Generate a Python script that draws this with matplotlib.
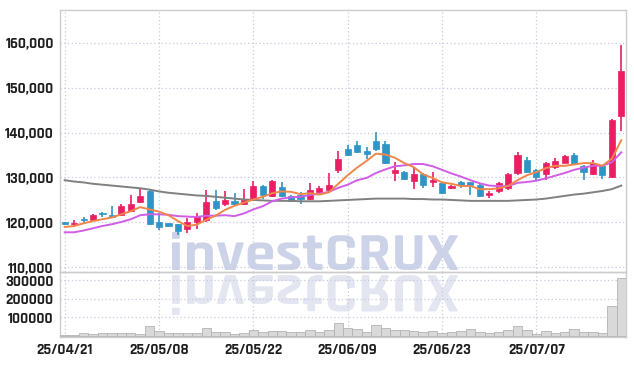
import numpy as np
import matplotlib
matplotlib.use('Agg')
import matplotlib.pyplot as plt
from matplotlib.patches import PathPatch
from matplotlib.textpath import TextPath
from matplotlib.font_manager import FontProperties
from matplotlib.transforms import Affine2D
from matplotlib.ticker import FuncFormatter

# DATA (daily candles, 25/04/21 - 25/07/18)
dates = ['25/04/21', '25/04/22', '25/04/23', '25/04/24', '25/04/25', '25/04/28', '25/04/29', '25/04/30',
         '25/05/02', '25/05/07', '25/05/08', '25/05/09', '25/05/12', '25/05/13', '25/05/14', '25/05/15',
         '25/05/16', '25/05/19', '25/05/20', '25/05/21', '25/05/22', '25/05/23', '25/05/26', '25/05/27',
         '25/05/28', '25/05/29', '25/05/30', '25/06/02', '25/06/04', '25/06/05', '25/06/09', '25/06/10',
         '25/06/11', '25/06/12', '25/06/13', '25/06/16', '25/06/17', '25/06/18', '25/06/19', '25/06/20',
         '25/06/23', '25/06/24', '25/06/25', '25/06/26', '25/06/27', '25/06/30', '25/07/01', '25/07/02',
         '25/07/03', '25/07/04', '25/07/07', '25/07/08', '25/07/09', '25/07/10', '25/07/11', '25/07/14',
         '25/07/15', '25/07/16', '25/07/17', '25/07/18']

opens = [120000, 119700, 120800, 120500, 122100, 121600, 121600, 122600, 124500, 127000,
         120100, 119800, 119600, 118600, 120000, 120500, 124700, 124200, 124800, 124000,
         125000, 128000, 125900, 127900, 125800, 126100, 125300, 126700, 127200, 131600,
         136300, 137300, 135800, 138100, 137400, 131000, 131200, 129300, 130700, 128900,
         128700, 127600, 129000, 129000, 128300, 126200, 127000, 127600, 130900, 133800,
         131600, 130800, 132300, 133300, 135000, 132500, 130700, 132600, 130000, 143700]
highs = [120100, 120500, 121100, 121800, 122400, 123600, 124200, 126200, 127400, 127200,
         122100, 119900, 119700, 121000, 122000, 127300, 127200, 127000, 126600, 127400,
         129200, 128400, 129500, 129000, 126000, 126800, 128800, 128100, 131000, 135900,
         137200, 138100, 136700, 140100, 138100, 133500, 131500, 132100, 131000, 131300,
         128900, 128400, 129300, 129100, 128500, 126900, 129100, 131100, 135600, 134500,
         131800, 133400, 134300, 135000, 135400, 132700, 133800, 132800, 143100, 159400]
lows = [119400, 118900, 119800, 120300, 121200, 121200, 121400, 122400, 124300, 119400,
        118400, 119000, 117100, 117700, 118600, 120000, 122800, 123700, 123800, 123900,
        124700, 125200, 125700, 125700, 124700, 124100, 125100, 126100, 127000, 131100,
        134800, 135400, 134200, 136000, 132900, 129200, 129500, 127400, 127600, 127900,
        126400, 127400, 127600, 126100, 125700, 125500, 126600, 127300, 130600, 131000,
        129400, 129500, 132000, 133200, 132800, 129400, 130500, 129600, 129900, 140300]
closes = [119600, 119900, 120600, 121600, 121900, 121300, 123600, 124200, 125800, 119600,
          119000, 119200, 118100, 120000, 121400, 124500, 123300, 125000, 124200, 125100,
          128100, 126000, 129300, 125900, 124800, 125300, 127300, 127600, 128400, 134200,
          135000, 135700, 135200, 136400, 133300, 131600, 129700, 130700, 128300, 129400,
          126600, 128000, 128300, 128400, 125900, 126600, 128800, 130800, 135100, 131200,
          130100, 133200, 133600, 134800, 133000, 131200, 133300, 130500, 142900, 153600]
volumes = [4000, 5000, 18000, 10000, 18000, 18000, 18000, 18000, 10000, 54000,
           29000, 18000, 18000, 18000, 18000, 43000, 21000, 21000, 8000, 18000,
           32000, 21000, 25000, 27000, 23000, 23000, 32000, 21000, 32000, 70000,
           43000, 36000, 23000, 60000, 45000, 30000, 30000, 27000, 21000, 27000,
           18000, 21000, 29000, 38000, 21000, 18000, 23000, 32000, 54000, 32000,
           10000, 27000, 18000, 23000, 38000, 21000, 21000, 18000, 159000, 311000]

# moving averages as drawn on the chart (5, 10 and long term)
ma5 = [119000, 119200, 119800, 120300, 120700, 121100, 121800, 122500, 123400, 122900,
       122400, 121600, 120300, 119200, 119500, 120600, 121500, 122800, 123700, 124400,
       125100, 125700, 126500, 126900, 126800, 126300, 126500, 126200, 126700, 128600,
       130500, 132200, 133700, 135300, 135100, 134400, 133200, 132300, 130700, 129900,
       128900, 128600, 128100, 128100, 127400, 127400, 127600, 128100, 129400, 130500,
       131200, 132100, 132600, 132600, 132900, 133200, 133200, 132600, 134200, 138300]
ma10 = [117800, 117800, 118200, 118700, 119200, 119600, 120100, 120700, 121600, 121800,
        121800, 121700, 121400, 121300, 121200, 121500, 121500, 121600, 121400, 122000,
        122900, 123600, 124700, 125300, 125600, 125700, 126100, 126400, 126800, 127700,
        128400, 129400, 129900, 131000, 131800, 132500, 132700, 133000, 133000, 132500,
        131700, 130900, 130200, 129400, 128700, 128200, 128100, 128100, 128800, 129000,
        129300, 129800, 130400, 131000, 131700, 132200, 132600, 132600, 133400, 135600]
ma_long = [129400, 129100, 128900, 128600, 128400, 128200, 128000, 127800, 127600, 127300,
           126900, 126600, 126400, 126200, 126000, 125900, 125700, 125500, 125300, 125100,
           125000, 124900, 124800, 124800, 124800, 124700, 124700, 124700, 124800, 124900,
           125000, 125100, 125200, 125300, 125300, 125300, 125300, 125200, 125200, 125100,
           125100, 125000, 124900, 124800, 124800, 124800, 124800, 124800, 124900, 125000,
           125100, 125300, 125600, 125900, 126200, 126400, 126700, 127000, 127400, 128200]

price_ticks = [110000, 120000, 130000, 140000, 150000, 160000]
volume_ticks = [100000, 200000, 300000]

# STYLE
UP = '#e91e63'
DOWN = '#2f94c6'
GRID = '#c9cbe0'
FONT = ['Rajdhani', 'DejaVu Sans']
plt.rcParams['font.family'] = FONT

W, H = 634, 366
fig = plt.figure(figsize=(W / 100, H / 100), dpi=100)
fig.patch.set_facecolor('white')

# pixel box -> figure fraction
def px_axes(left, top, right, bottom):
    return fig.add_axes([left / W, 1 - bottom / H, (right - left) / W, (bottom - top) / H])

ax = px_axes(60, 10, 626, 272)
axv = px_axes(60, 272, 626, 337)

x = np.arange(len(dates))
o = np.array(opens)
c = np.array(closes)
up = c >= o
colors = np.where(up, UP, DOWN)

# candles
ax.vlines(x, lows, highs, colors=colors, linewidth=1.2, zorder=3)
body_bottom = np.minimum(o, c)
body_height = np.maximum(np.abs(c - o), 250)
ax.bar(x, body_height, bottom=body_bottom, width=0.65, color=colors,
       edgecolor=colors, linewidth=0.5, zorder=4)

# moving averages
ax.plot(x, ma_long, color='#808080', linewidth=1.4, zorder=5)
ax.plot(x, ma10, color='#d15ee6', linewidth=1.4, zorder=5)
ax.plot(x, ma5, color='#f0874a', linewidth=1.4, zorder=5)

# volume
axv.bar(x, volumes, width=1.0, color='#d9d9d9', edgecolor='#b3b3b3', linewidth=0.6, zorder=3)

tick_idx = x[::10]
for a in (ax, axv):
    a.set_facecolor('none')
    a.set_xlim(-0.5, len(dates) - 0.5)
    a.set_xticks(tick_idx)
    a.grid(True, color=GRID, linestyle=(0, (1, 2)), linewidth=0.9, zorder=0)
    a.tick_params(length=0, labelsize=11, colors='#1e1e1e', pad=4.5)
    for s in a.spines.values():
        s.set_color('#cccccc')
        s.set_linewidth(1.0)

ax.set_ylim(108960, 167290)
ax.set_yticks(price_ticks)
ax.yaxis.set_major_formatter(FuncFormatter(lambda v, p: '{:,.0f}'.format(v)))
ax.set_xticklabels([])

axv.set_ylim(-6000, 345000)
axv.set_yticks(volume_ticks)
axv.set_yticklabels([str(v) for v in volume_ticks])
axv.set_xticklabels([dates[i] for i in tick_idx])

for lab in ax.get_yticklabels() + axv.get_yticklabels() + axv.get_xticklabels():
    lab.set_fontweight('bold')

# watermark with reflection, drawn behind the axes
tp = TextPath((0, 0), 'investCRUX', size=1, prop=FontProperties(family='Rajdhani', weight='bold'))
bb = tp.get_extents()
sx = 286 / bb.width
sy = 38 / bb.y1
to_fig = Affine2D().scale(1 / W, 1 / H) + fig.transFigure
main_tr = Affine2D().translate(-bb.x0, 0).scale(sx, sy).translate(172, H - 270) + to_fig
refl_tr = Affine2D().translate(-bb.x0, 0).scale(sx, -sy * 1.05).translate(172, H - 275) + to_fig
fig.add_artist(PathPatch(tp, transform=refl_tr, facecolor='#e3e6f0', edgecolor='none', zorder=-2))
fig.add_artist(PathPatch(tp, transform=main_tr, facecolor='#ccd2e7', edgecolor='none', zorder=-1))

plt.savefig('out.png', dpi=100, facecolor='white')
